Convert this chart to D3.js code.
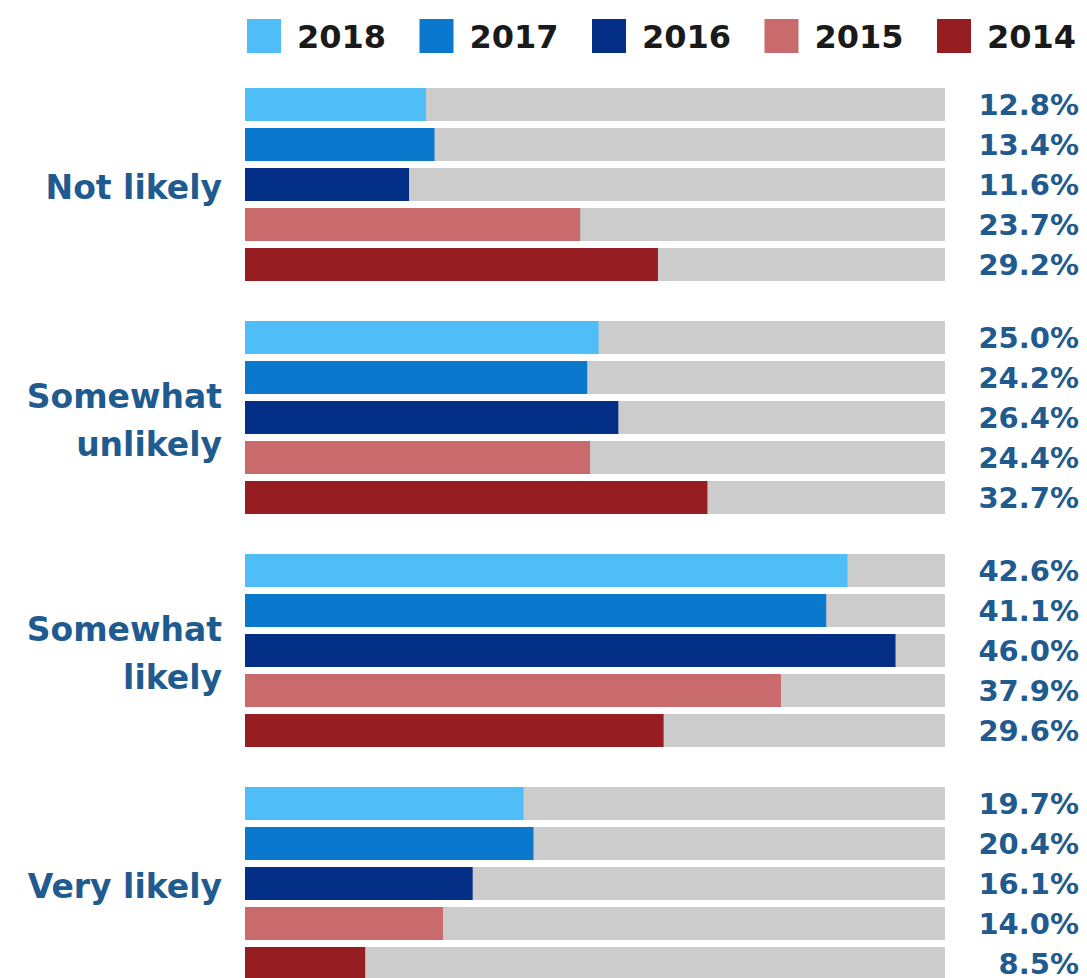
<!DOCTYPE html>
<html lang="en">
<head>
    <meta charset="UTF-8">
    <script src="https://d3js.org/d3.v7.min.js"></script>
    <title>Likelihood by year</title>
    <style>
        body { margin: 0; background: #fff; }
        text { font-family: "DejaVu Sans", sans-serif; font-weight: 700; }
    </style>
</head>
<body>
    <script>

        // data
        var years = ["2018", "2017", "2016", "2015", "2014"];
        var categories = ["Not likely", "Somewhat unlikely", "Somewhat likely", "Very likely"];
        var categoryLines = [["Not likely"], ["Somewhat", "unlikely"], ["Somewhat", "likely"], ["Very likely"]];
        var v2018 = [12.8, 25.0, 42.6, 19.7];
        var v2017 = [13.4, 24.2, 41.1, 20.4];
        var v2016 = [11.6, 26.4, 46.0, 16.1];
        var v2015 = [23.7, 24.4, 37.9, 14.0];
        var v2014 = [29.2, 32.7, 29.6, 8.5];
        var seriesValues = [v2018, v2017, v2016, v2015, v2014];
        var colors = ["#4fbef6", "#0a78cd", "#032f87", "#c96b6c", "#961d21"];

        var svg = d3.select("body").append("svg").attr("width", 1087).attr("height", 978);

        var xScale = d3.scaleLinear().domain([0, 49.5]).range([245, 945]);
        var groupScale = d3.scaleBand().domain(categories).range([88, 88 + 233 * 4]);
        var yearScale = d3.scaleBand().domain(years).range([0, 193]).paddingInner(0.175).paddingOuter(0);
        var colorScale = d3.scaleOrdinal().domain(years).range(colors);

        // flatten into rows
        var rows = [];
        categories.forEach(function(c, ci) {
            years.forEach(function(y, yi) {
                rows.push({cat: c, year: y, value: seriesValues[yi][ci]});
            });
        });

        function rowY(d) { return groupScale(d.cat) + yearScale(d.year); }

        // gray track
        svg.selectAll("rect.track").data(rows).enter().append("rect")
            .attr("class", "track")
            .attr("x", xScale(0))
            .attr("y", rowY)
            .attr("width", xScale(49.5) - xScale(0))
            .attr("height", yearScale.bandwidth())
            .style("fill", "#cccccc");

        // value bars
        svg.selectAll("rect.bar").data(rows).enter().append("rect")
            .attr("class", "bar")
            .attr("x", xScale(0))
            .attr("y", rowY)
            .attr("width", function(d) { return xScale(d.value) - xScale(0); })
            .attr("height", yearScale.bandwidth())
            .style("fill", function(d) { return colorScale(d.year); });

        // value labels
        svg.selectAll("text.val").data(rows).enter().append("text")
            .attr("class", "val")
            .attr("x", 1079)
            .attr("y", function(d) { return rowY(d) + yearScale.bandwidth() / 2; })
            .attr("dy", "0.36em")
            .attr("text-anchor", "end")
            .style("font-size", "29px")
            .style("fill", "#1f5b8e")
            .text(function(d) { return d.value.toFixed(1) + "%"; });

        // category labels
        var catG = svg.selectAll("g.cat").data(categories).enter().append("g")
            .attr("class", "cat")
            .attr("transform", function(d) { return "translate(222," + (groupScale(d) + 193 / 2 + 3) + ")"; });

        catG.each(function(d, i) {
            var lines = categoryLines[i];
            var g = d3.select(this);
            lines.forEach(function(l, li) {
                g.append("text")
                    .attr("x", 0)
                    .attr("y", (li - (lines.length - 1) / 2) * 48)
                    .attr("dy", "0.36em")
                    .attr("text-anchor", "end")
                    .style("font-size", "33px")
                    .style("fill", "#1f5b8e")
                    .text(l);
            });
        });

        // legend
        var legendScale = d3.scaleBand().domain(years).range([247, 247 + 172.5 * 5]);
        var leg = svg.selectAll("g.leg").data(years).enter().append("g")
            .attr("class", "leg")
            .attr("transform", function(d) { return "translate(" + legendScale(d) + ",19)"; });
        leg.append("rect").attr("width", 34).attr("height", 34)
            .style("fill", function(d) { return colorScale(d); });
        leg.append("text").attr("x", 50).attr("y", 17).attr("dy", "0.36em")
            .style("font-size", "32px")
            .style("fill", "#1a1a1a")
            .text(function(d) { return d; });

    </script>
</body>
</html>
